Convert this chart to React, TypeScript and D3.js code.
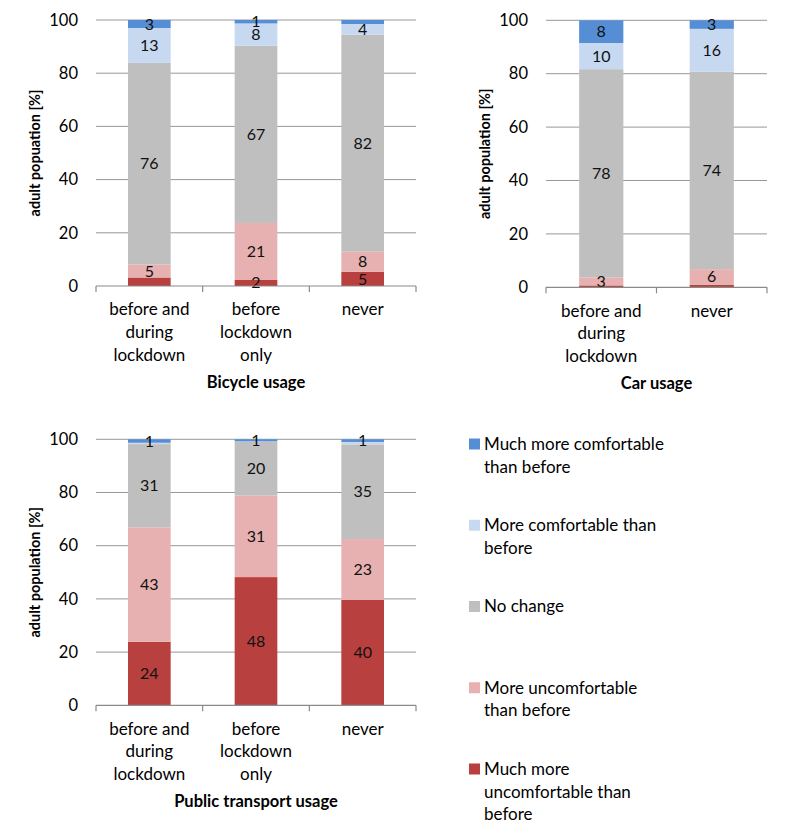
import React from 'react';
import * as d3 from 'd3';

// series, bottom to top of each stack
const seriesNames = [
  'Much more uncomfortable than before',
  'More uncomfortable than before',
  'No change',
  'More comfortable than before',
  'Much more comfortable than before',
];
const seriesColors = ['#b8403f', '#e6b1b0', '#bfbfbf', '#c6d9f1', '#558ed5'];

// legend text lines, top to bottom
const legendLines = [
  ['Much more comfortable', 'than before'],
  ['More comfortable than', 'before'],
  ['No change'],
  ['More uncomfortable', 'than before'],
  ['Much more', 'uncomfortable than', 'before'],
];

const yTicks = [0, 20, 40, 60, 80, 100];

// Bicycle usage
const bicycleCategories = [['before and', 'during', 'lockdown'], ['before', 'lockdown', 'only'], ['never']];
const bicycleBeforeDuring = [3.2, 4.9, 75.8, 13.1, 3.0];
const bicycleBeforeOnly = [2.4, 21.3, 66.6, 8.4, 1.3];
const bicycleNever = [5.3, 7.6, 81.6, 4.0, 1.5];
const bicycleLabels = [[null, 5, 76, 13, 3], [2, 21, 67, 8, 1], [5, 8, 82, 4, null]];

// Car usage
const carCategories = [['before and', 'during', 'lockdown'], ['never']];
const carBeforeDuring = [0.7, 3.0, 78.0, 9.8, 8.5];
const carNever = [1.0, 5.8, 74.0, 16.0, 3.2];
const carLabels = [[null, 3, 78, 10, 8], [null, 6, 74, 16, 3]];

// Public transport usage
const ptCategories = [['before and', 'during', 'lockdown'], ['before', 'lockdown', 'only'], ['never']];
const ptBeforeDuring = [23.9, 43.0, 31.3, 0.5, 1.3];
const ptBeforeOnly = [48.2, 30.7, 20.1, 0.2, 0.8];
const ptNever = [39.6, 22.9, 35.6, 0.9, 1.0];
const ptLabels = [[24, 43, 31, null, 1], [48, 31, 20, null, 1], [40, 23, 35, null, 1]];

const FONT = 'Lato, "Open Sans", sans-serif';
const gridColor = '#989898';

type PanelProps = {
  left: number; right: number; top: number; bottom: number;
  categories: string[][];
  rows: number[][];
  labels: (number | null)[][];
  yTitle: string;
  xTitle: string;
};

const Panel = ({ left, right, top, bottom, categories, rows, labels, yTitle, xTitle }: PanelProps) => {
  const x = d3.scaleBand<number>()
    .domain(rows.map((_, i) => i))
    .range([left, right])
    .paddingInner(0.6)
    .paddingOuter(0.3);
  const step = (right - left) / rows.length;
  const y = d3.scaleLinear().domain([0, 100]).range([bottom, top]);

  const keys = seriesNames.map((_, i) => i);
  const stacked = d3.stack<number[], number>()
    .keys(keys)
    .value((d, k) => d[k])(rows);

  const lineH = 22.7;

  return (
    <g>
      {/* gridlines */}
      {yTicks.filter(t => t > 0).map(t => (
        <line key={t} x1={left} x2={right} y1={y(t)} y2={y(t)} stroke={gridColor} strokeWidth={1} />
      ))}
      {/* y tick labels */}
      {yTicks.map(t => (
        <text key={t} x={left - 18} y={y(t)} dy="0.35em" textAnchor="end" fontSize={16.5} fill="#000" fontFamily={FONT}>{t}</text>
      ))}
      {/* bars */}
      {stacked.map((layer, si) => layer.map((seg, ci) => (
        <rect key={`${si}-${ci}`} x={x(ci)} width={x.bandwidth()} y={y(seg[1])}
          height={Math.max(0, y(seg[0]) - y(seg[1]))} fill={seriesColors[si]} />
      )))}
      {/* value labels */}
      {stacked.map((layer, si) => layer.map((seg, ci) => {
        const lab = labels[ci][si];
        if (lab === null) return null;
        return (
          <text key={`l${si}-${ci}`} x={(x(ci) as number) + x.bandwidth() / 2} y={y((seg[0] + seg[1]) / 2)}
            dy="0.35em" textAnchor="middle" fontSize={16} fill="#111" fontFamily={FONT}>{lab}</text>
        );
      }))}
      {/* x axis */}
      <line x1={left} x2={right} y1={bottom} y2={bottom} stroke="#8a8a8a" strokeWidth={1.2} />
      {d3.range(rows.length + 1).map(i => (
        <line key={i} x1={left + i * step} x2={left + i * step} y1={bottom} y2={bottom + 6} stroke="#8a8a8a" strokeWidth={1.2} />
      ))}
      {/* category labels */}
      {categories.map((lines, ci) => (
        <text key={ci} textAnchor="middle" fontSize={17} fill="#000" fontFamily={FONT}>
          {lines.map((ln, li) => (
            <tspan key={li} x={(x(ci) as number) + x.bandwidth() / 2} y={bottom + 23.5 + li * lineH} dy="0.35em">{ln}</tspan>
          ))}
        </text>
      ))}
      {/* axis titles */}
      <text x={(left + right) / 2} y={bottom + 96} dy="0.35em" textAnchor="middle" fontSize={16.5} fontWeight="bold" fill="#000" fontFamily={FONT}>{xTitle}</text>
      <text transform={`translate(${left - 61},${(top + bottom) / 2}) rotate(-90)`} dy="0.35em" textAnchor="middle"
        fontSize={14.5} fontWeight="bold" fill="#000" fontFamily={FONT}>{yTitle}</text>
    </g>
  );
};

const App = () => {
  const width = 787;
  const height = 835;
  const legendY = d3.scaleLinear().domain([0, 4]).range([444, 769]);

  return (
    <svg width={width} height={height} style={{ position: 'absolute', left: 0, top: 0, background: '#fff' }}>
      <Panel left={96} right={416} top={20} bottom={286}
        categories={bicycleCategories}
        rows={[bicycleBeforeDuring, bicycleBeforeOnly, bicycleNever]}
        labels={bicycleLabels}
        yTitle="adult popuation [%]" xTitle="Bicycle usage" />
      <Panel left={546} right={767} top={20.3} bottom={287.3}
        categories={carCategories}
        rows={[carBeforeDuring, carNever]}
        labels={carLabels}
        yTitle="adult population [%]" xTitle="Car usage" />
      <Panel left={96} right={416} top={439.3} bottom={705.3}
        categories={ptCategories}
        rows={[ptBeforeDuring, ptBeforeOnly, ptNever]}
        labels={ptLabels}
        yTitle="adult population [%]" xTitle="Public transport usage" />
      {/* legend */}
      {legendLines.map((lines, i) => {
        const cy = legendY(i);
        const color = seriesColors[seriesColors.length - 1 - i];
        return (
          <g key={i}>
            <rect x={469} y={cy - 5.5} width={11} height={11} fill={color} />
            <text fontSize={17} fill="#000" fontFamily={FONT}>
              {lines.map((ln, li) => (
                <tspan key={li} x={484} y={cy + li * 22.7} dy="0.35em">{ln}</tspan>
              ))}
            </text>
          </g>
        );
      })}
    </svg>
  );
};

export default App;
